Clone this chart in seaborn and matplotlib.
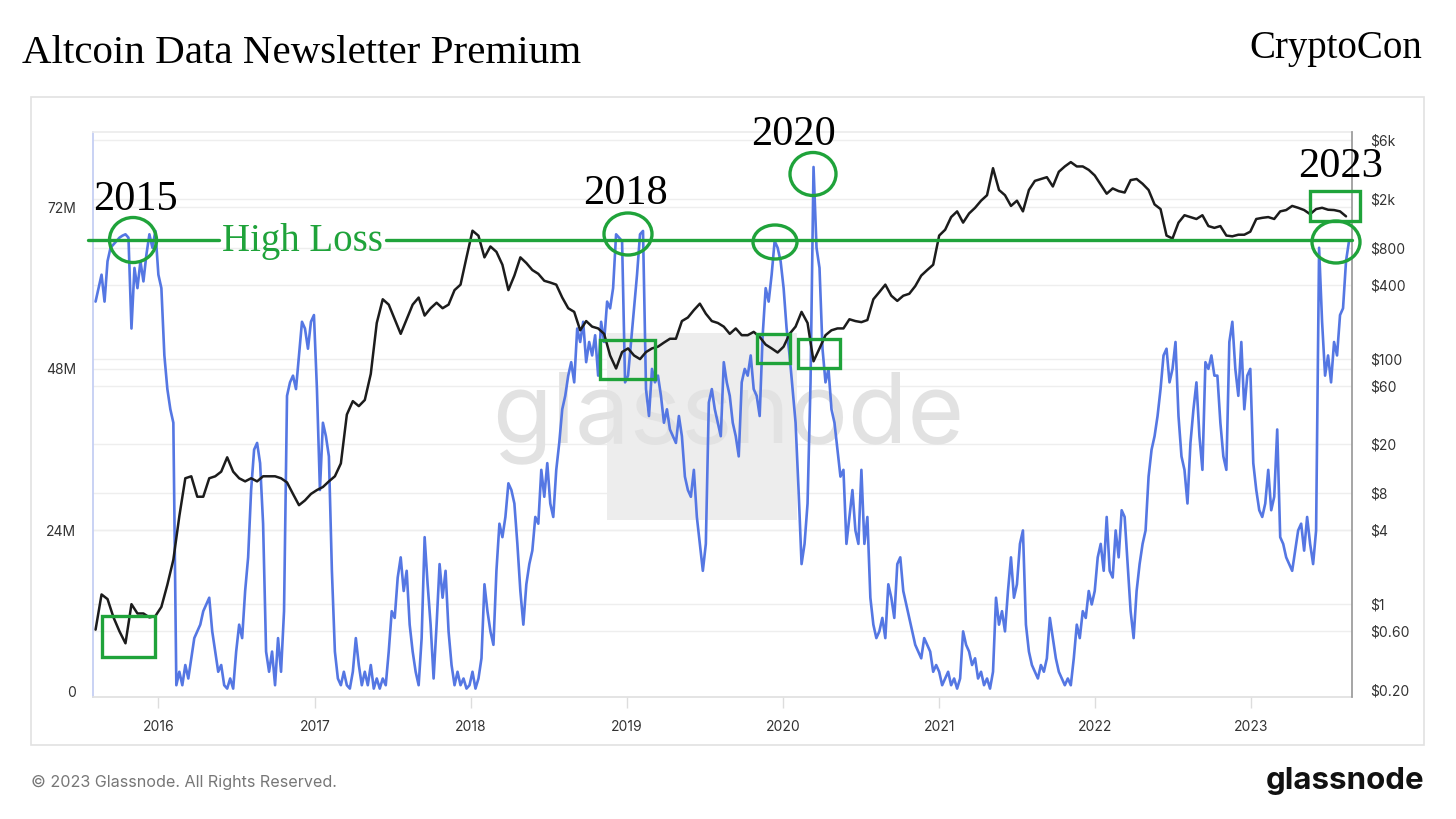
import numpy as np
import pandas as pd
import matplotlib
matplotlib.use('Agg')
import matplotlib.pyplot as plt
from matplotlib.patches import Ellipse, Rectangle
from matplotlib.lines import Line2D
from matplotlib.ticker import NullLocator
from matplotlib.transforms import blended_transform_factory
import seaborn as sns

# ---------------- data ----------------
series_start = '2015-08-07'
# weekly samples, millions (left axis)
supply_in_loss_m = [
    58, 60, 62, 58, 64, 66, 66.5, 67, 67.5, 67.8,
    68, 67.5, 54, 63, 60, 64, 61, 65, 68, 66,
    68.5, 62, 60, 50, 45, 42, 40, 1, 3, 1,
    4, 2, 5, 8, 9, 10, 12, 13, 14, 9,
    6, 3, 4, 1, 0.5, 2, 0.5, 6, 10, 8,
    15, 20, 30, 36, 37, 34, 25, 6, 3, 6,
    1, 8, 3, 12, 44, 46, 47, 45, 50, 55,
    54, 51, 55, 56, 45, 30, 40, 38, 35, 18,
    6, 2, 1, 3, 1, 0.5, 3, 8, 4, 1,
    3, 1, 4, 0.5, 2, 0.5, 2, 1, 6, 12,
    11, 17, 20, 15, 18, 10, 6, 3, 1, 8,
    23, 16, 10, 2, 10, 19, 14, 18, 9, 4,
    1, 3, 1, 2, 0.5, 1, 3, 0.5, 2, 5,
    16, 12, 9, 7, 18, 25, 23, 26, 31, 30,
    28, 22, 15, 10, 16, 19, 21, 26, 25, 33,
    29, 34, 28, 26, 33, 37, 42, 44, 47, 49,
    46, 54, 52, 55, 49, 52, 50, 53, 47, 55,
    52, 58, 57, 60, 68, 67.5, 67, 46, 47, 52,
    57, 62, 68, 68.5, 45, 41, 48, 46, 47, 44,
    40, 42, 39, 38, 37, 41, 38, 32, 30, 29,
    33, 26, 22, 18, 22, 43, 45, 42, 40, 38,
    49, 46, 44, 40, 38, 35, 46, 48, 47, 50,
    45, 44, 41, 53, 60, 58, 62, 67, 66, 64,
    60, 54, 50, 45, 40, 30, 19, 22, 28, 46,
    78, 66, 63, 51, 46, 48, 42, 40, 36, 32,
    33, 22, 26, 30, 24, 22, 33, 22, 26, 14,
    10, 8, 9, 11, 8, 16, 14, 11, 19, 20,
    15, 13, 11, 9, 7, 6, 5, 8, 7, 6,
    3, 4, 3, 1, 2, 3, 1, 2, 0.5, 2,
    9, 7, 6, 4, 5, 2, 3, 1, 2, 0.5,
    3, 14, 10, 12, 9, 15, 20, 14, 16, 22,
    24, 10, 6, 4, 3, 2, 4, 3, 5, 11,
    8, 5, 3, 2, 1, 2, 1, 5, 10, 8,
    12, 11, 15, 13, 15, 20, 22, 18, 26, 18,
    17, 24, 20, 27, 26, 19, 12, 8, 15, 19,
    22, 24, 32, 36, 38, 41, 45, 50, 51, 46,
    48, 52, 41, 35, 33, 28, 37, 42, 46, 38,
    33, 49, 48, 50, 47, 47, 40, 35, 33, 52,
    55, 48, 44, 52, 42, 47, 48, 34, 30, 27,
    26, 28, 33, 27, 29, 39, 23, 22, 20, 19,
    18, 21, 24, 25, 21, 26, 22, 19, 24, 66,
    55, 47, 50, 46, 52, 50, 56, 57, 64, 67,
]
# fortnightly samples, USD (right axis, log)
price_usd = [
    0.62, 1.2, 1.1, 0.78, 0.6, 0.48, 1.0, 0.84, 0.84, 0.78,
    0.8, 0.95, 1.44, 2.3, 5.2, 10.6, 11, 7.5, 7.5, 10.6,
    11, 12, 15.7, 12, 10.6, 10, 10.6, 10, 11, 11,
    11, 10.6, 9.8, 7.9, 6.4, 7, 7.9, 8.5, 9, 10,
    11, 14, 35, 45, 41, 46, 75, 195, 304, 275,
    209, 159, 209, 275, 314, 224, 257, 285, 257, 275,
    361, 400, 667, 1100, 1000, 667, 818, 740, 581, 361,
    474, 667, 600, 526, 490, 430, 416, 400, 314, 257,
    240, 170, 202, 182, 176, 159, 106, 83, 113, 121,
    106, 99, 113, 121, 125, 135, 145, 145, 202, 216,
    248, 280, 232, 202, 195, 182, 159, 176, 155, 155,
    165, 150, 130, 121, 112, 125, 159, 182, 240, 195,
    95, 121, 155, 170, 176, 176, 209, 202, 198, 206,
    304, 348, 400, 325, 295, 325, 337, 389, 474, 526,
    581, 1004, 1120, 1420, 1580, 1280, 1520, 1690, 1930, 2140,
    3550, 2360, 2140, 1750, 1930, 1580, 2360, 2800, 2900, 3000,
    2520, 3320, 3670, 3980, 3670, 3670, 3440, 3100, 2610, 2200,
    2430, 2310, 2250, 2840, 2900, 2650, 2360, 1800, 1650, 1004,
    950, 1280, 1470, 1420, 1370, 1470, 1200, 1160, 1200, 1004,
    990, 1020, 1020, 1080, 1370, 1400, 1420, 1370, 1580, 1620,
    1750, 1690, 1620, 1500, 1650, 1690, 1630, 1620, 1580, 1440,
]
year_ticks = ['2016', '2017', '2018', '2019', '2020', '2021', '2022', '2023']
left_ticks = [0, 24, 48, 72]
left_labels = ['0', '24M', '48M', '72M']
right_ticks = [0.2, 0.6, 1, 4, 8, 20, 60, 100, 400, 800, 2000, 6000]
right_labels = ['$0.20', '$0.60', '$1', '$4', '$8', '$20', '$60', '$100',
                '$400', '$800', '$2k', '$6k']

df_loss = pd.DataFrame({
    'date': pd.date_range(series_start, periods=len(supply_in_loss_m), freq='7D'),
    'loss': supply_in_loss_m})
df_price = pd.DataFrame({
    'date': pd.date_range(series_start, periods=len(price_usd), freq='14D'),
    'price': price_usd})

# ---------------- style ----------------
sns.set_theme(style='white')
plt.rcParams['font.family'] = ['Inter', 'DejaVu Sans']
SERIF = ['Liberation Serif', 'DejaVu Serif']
BLUE = '#5577e3'
GREEN = '#1fa33a'
TXT = '#333333'

W, H = 1456, 819
fig = plt.figure(figsize=(W / 100, H / 100), dpi=100)
fig.patch.set_facecolor('white')


def fx(x):
    return x / W


def fy(y):
    return 1 - y / H


# outer glassnode frame
fig.add_artist(Rectangle((fx(31), fy(745)), fx(1424) - fx(31), fy(97) - fy(745),
                         transform=fig.transFigure, fill=False,
                         edgecolor='#e2e2e2', lw=1.2))

ax = fig.add_axes([fx(93), fy(697), fx(1352) - fx(93), fy(132) - fy(697)])
ax.set_facecolor('white')

sns.lineplot(data=df_loss, x='date', y='loss', ax=ax, color=BLUE, lw=1.9, zorder=3)
ax2 = ax.twinx()
sns.lineplot(data=df_price, x='date', y='price', ax=ax2, color='#1c1c1c', lw=1.8, zorder=3)
ax2.set_yscale('log')

ax.set_xlim(pd.Timestamp('2015-08-01'), pd.Timestamp('2023-08-25'))
ax.set_ylim(-0.75, 83.2)
ax2.set_ylim(0.1754, 7000)

# ticks
ax.set_yticks(left_ticks)
ax.set_yticklabels(left_labels)
ax.tick_params(axis='y', length=0, pad=12, labelsize=10, labelcolor=TXT)
ax2.set_yticks(right_ticks)
ax2.set_yticklabels(right_labels)
ax2.yaxis.set_minor_locator(NullLocator())
ax2.tick_params(axis='y', length=0, pad=13, labelsize=10, labelcolor=TXT)
ax.set_xticks([pd.Timestamp(f'{y}-01-01') for y in year_ticks])
ax.set_xticklabels(year_ticks)
ax.tick_params(axis='x', length=8, width=1, color='#dddddd', pad=8.5,
               labelsize=10, labelcolor=TXT, bottom=True)
ax.set_xlabel('')
ax.set_ylabel('')
ax2.set_ylabel('')

for a in (ax, ax2):
    for s in a.spines.values():
        s.set_visible(False)
ax.spines['left'].set_visible(True)
ax.spines['left'].set_color('#c3cdf3')
ax.spines['bottom'].set_visible(True)
ax.spines['bottom'].set_color('#e0e0e0')
ax.spines['top'].set_visible(True)
ax.spines['top'].set_color('#ececec')
ax2.spines['right'].set_visible(True)
ax2.spines['right'].set_color('#9a9a9a')

# gridlines (both axes) beneath the series
for v in left_ticks[1:]:
    ax.axhline(v, color='#eeeeee', lw=1, zorder=0.5)
btrans = blended_transform_factory(ax.transAxes, ax2.transData)
for v in right_ticks[1:]:
    ax.add_line(Line2D([0, 1], [v, v], transform=btrans, color='#eeeeee',
                       lw=1, zorder=0.5))

# watermark
ax.add_patch(Rectangle((fx(607), fy(520)), fx(797) - fx(607), fy(333) - fy(520),
                       transform=fig.transFigure, facecolor='#ededed',
                       edgecolor='none', zorder=0.6))
ax.text(fx(728), fy(418), 'glassnode', transform=fig.transFigure, ha='center',
        va='center', fontsize=70, color='#e2e2e2', zorder=0.7,
        family=['Inter', 'DejaVu Sans'])

# ---------------- annotations ----------------
fig.add_artist(Line2D([fx(88), fx(219)], [fy(240), fy(240)], transform=fig.transFigure,
                      color=GREEN, lw=2.4))
fig.add_artist(Line2D([fx(386), fx(1352)], [fy(240), fy(240)], transform=fig.transFigure,
                      color=GREEN, lw=2.4))
fig.text(fx(222), fy(251), 'High Loss', fontsize=28, color=GREEN, family=SERIF,
         va='baseline', ha='left')

ellipses = [(133, 240, 47, 45), (628, 234, 48, 42), (775, 242, 44, 34),
            (813, 174, 46, 43), (1336, 242, 48, 42)]
for cx, cy, w, h in ellipses:
    fig.add_artist(Ellipse((fx(cx), fy(cy)), w / W, h / H, transform=fig.transFigure,
                           fill=False, edgecolor=GREEN, lw=2.4))

rects = [(102, 616, 53, 41), (600, 340, 55, 39), (757, 334, 33, 29),
         (798, 339, 42, 29), (1310, 191, 50, 30)]
for x0, y0, w, h in rects:
    fig.add_artist(Rectangle((fx(x0), fy(y0 + h)), w / W, h / H, transform=fig.transFigure,
                             fill=False, edgecolor=GREEN, lw=2.4))

for txt, x0, yb in [('2015', 93, 210), ('2018', 583, 204), ('2020', 751, 145),
                    ('2023', 1298, 177)]:
    fig.text(fx(x0), fy(yb), txt, fontsize=30.5, color='black', family=SERIF,
             va='baseline', ha='left')

# header / footer
fig.text(fx(22), fy(63), 'Altcoin Data Newsletter Premium', fontsize=29.5,
         family=SERIF, color='black', va='baseline', ha='left')
fig.text(fx(1422), fy(58), 'CryptoCon', fontsize=28, family=SERIF, color='black',
         va='baseline', ha='right')
fig.text(fx(31), fy(782), '\u00a9 2023 Glassnode. All Rights Reserved.', fontsize=11.6,
         color='#777777', va='center', ha='left')
fig.text(fx(1424), fy(781), 'glassnode', fontsize=22.5, color='#111111', weight='bold',
         va='center', ha='right')

fig.savefig('out.png', dpi=100, facecolor='white')
